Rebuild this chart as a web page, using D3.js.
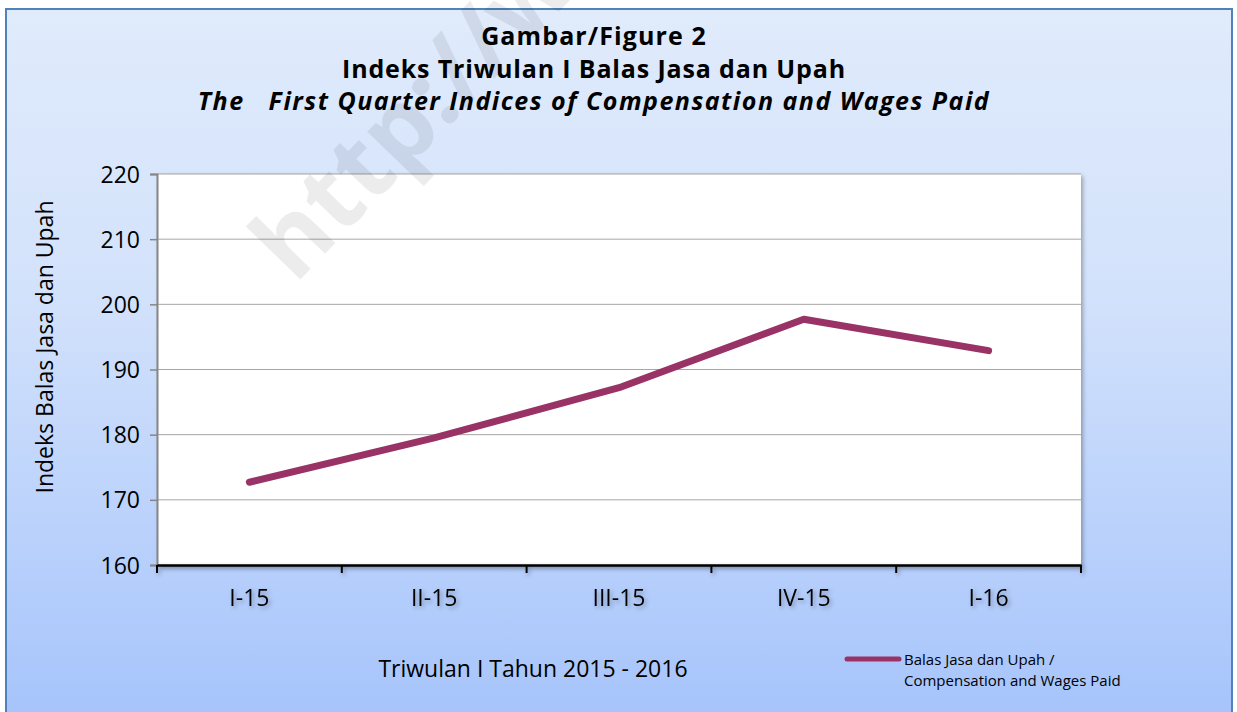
<!DOCTYPE html>
<html lang="id">
<head>
<meta charset="utf-8">
<title>Indeks Triwulan I Balas Jasa dan Upah</title>
<script src="https://cdn.jsdelivr.net/npm/d3@7"></script>
<style>
  body { margin: 0; background: #fff; }
  svg text { font-family: "Open Sans", "Noto Sans", sans-serif; fill: #000; }
</style>
</head>
<body>
<script>
// data
var quarters = ["I-15", "II-15", "III-15", "IV-15", "I-16"];
var values = [172.7, 179.5, 187.2, 197.7, 192.9];
var yTicks = [160, 170, 180, 190, 200, 210, 220];
var titleLines = ["Gambar/Figure 2", "Indeks Triwulan I Balas Jasa dan Upah", "The   First Quarter Indices of Compensation and Wages Paid"];
var seriesName = ["Balas Jasa dan Upah /", "Compensation and Wages Paid"];

var W = 1237, H = 712;
var plot = { left: 157, right: 1081, top: 174, bottom: 565 };

var svg = d3.select("body").append("svg")
  .attr("width", W).attr("height", H);

var defs = svg.append("defs");
var grad = defs.append("linearGradient").attr("id", "bg")
  .attr("x1", 0).attr("y1", 0).attr("x2", 0).attr("y2", 1);
grad.append("stop").attr("offset", "0%").attr("stop-color", "#e0ebfb");
grad.append("stop").attr("offset", "40%").attr("stop-color", "#d3e2fb");
grad.append("stop").attr("offset", "100%").attr("stop-color", "#a6c4fb");

var shadow = defs.append("filter").attr("id", "shadow")
  .attr("x", "-5%").attr("y", "-5%").attr("width", "110%").attr("height", "110%");
shadow.append("feDropShadow").attr("dx", 2).attr("dy", 2)
  .attr("stdDeviation", 2).attr("flood-color", "#000").attr("flood-opacity", 0.3);

// chart frame
svg.append("rect")
  .attr("x", 6).attr("y", 9).attr("width", 1226).attr("height", 710)
  .attr("fill", "url(#bg)")
  .attr("stroke", "#4f81bd").attr("stroke-width", 2);

// plot area
svg.append("rect")
  .attr("x", plot.left).attr("y", plot.top)
  .attr("width", plot.right - plot.left).attr("height", plot.bottom - plot.top)
  .attr("fill", "#fff")
  .attr("filter", "url(#shadow)");

var x = d3.scaleBand().domain(quarters).range([plot.left, plot.right]);
var y = d3.scaleLinear().domain([160, 220]).range([plot.bottom, plot.top]);

// gridlines
svg.append("g")
  .selectAll("line")
  .data(yTicks.slice(1))
  .join("line")
  .attr("x1", plot.left).attr("x2", plot.right)
  .attr("y1", d => y(d)).attr("y2", d => y(d))
  .attr("stroke", "#a6a6a6").attr("stroke-width", 1);

// y axis
var yAxis = svg.append("g")
  .attr("transform", "translate(" + plot.left + ",0)")
  .call(d3.axisLeft(y).tickValues(yTicks).tickSize(7).tickPadding(10));
yAxis.select(".domain").attr("stroke", "#868686").attr("stroke-width", 2);
yAxis.selectAll(".tick line").attr("stroke", "#868686").attr("stroke-width", 1.5);
yAxis.selectAll("text").style("font-size", "23px").attr("dy", "0.35em");

// x axis with ticks between categories
var xAxis = svg.append("g")
  .attr("transform", "translate(0," + plot.bottom + ")")
  .attr("filter", "url(#shadow)")
  .call(d3.axisBottom(x).tickSize(0).tickPadding(25));
xAxis.select(".domain").attr("stroke", "#000").attr("stroke-width", 2.5);
xAxis.selectAll("text").style("font-size", "23px");
xAxis.append("g")
  .selectAll("line")
  .data(quarters.concat(["end"]))
  .join("line")
  .attr("x1", (d, i) => plot.left + i * x.step())
  .attr("x2", (d, i) => plot.left + i * x.step())
  .attr("y1", 0).attr("y2", 8)
  .attr("stroke", "#000").attr("stroke-width", 2);

// watermark
svg.append("text")
  .attr("transform", "translate(295,285) rotate(-46)")
  .style("font-size", "100px").style("font-weight", "bold")
  .style("fill", "#000").style("opacity", 0.07)
  .text("http://www");

// series line
var line = d3.line()
  .x((d, i) => x(quarters[i]) + x.bandwidth() / 2)
  .y(d => y(d));
svg.append("path")
  .datum(values)
  .attr("d", line)
  .attr("fill", "none")
  .attr("stroke", "#993366")
  .attr("stroke-width", 7)
  .attr("stroke-linecap", "round")
  .attr("stroke-linejoin", "round");

// titles
var titleY = [45, 78, 110];
var titleSpacing = [1.1, 0.85, 1.5];
svg.append("g").selectAll("text")
  .data(titleLines)
  .join("text")
  .attr("x", 594).attr("y", (d, i) => titleY[i])
  .attr("text-anchor", "middle")
  .style("font-size", "25px").style("font-weight", "bold")
  .style("letter-spacing", (d, i) => titleSpacing[i] + "px")
  .style("font-style", (d, i) => i == 2 ? "italic" : "normal")
  .style("white-space", "pre")
  .text(d => d);

svg.append("text")
  .attr("transform", "translate(53,347) rotate(-90)")
  .attr("text-anchor", "middle")
  .style("font-size", "23px")
  .text("Indeks Balas Jasa dan Upah");

svg.append("text")
  .attr("x", 533).attr("y", 677)
  .attr("text-anchor", "middle")
  .style("font-size", "23px")
  .text("Triwulan I Tahun 2015 - 2016");

// legend
svg.append("line")
  .attr("x1", 847).attr("x2", 899).attr("y1", 659).attr("y2", 659)
  .attr("stroke", "#993366").attr("stroke-width", 5)
  .attr("stroke-linecap", "round");
svg.append("g").selectAll("text")
  .data(seriesName)
  .join("text")
  .attr("x", 904).attr("y", (d, i) => 665 + i * 21)
  .style("font-size", "15px")
  .text(d => d);
</script>
</body>
</html>
